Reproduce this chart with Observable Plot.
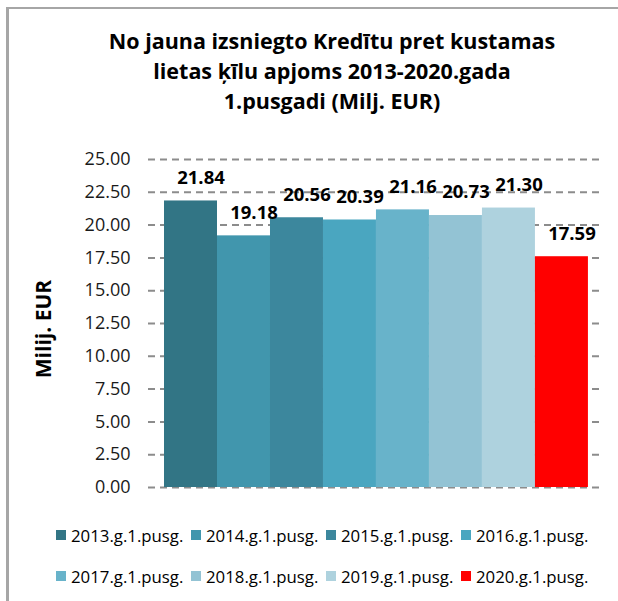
<!DOCTYPE html>
<html><head><meta charset="utf-8">
<script src="https://cdn.jsdelivr.net/npm/d3@7"></script>
<script src="https://cdn.jsdelivr.net/npm/@observablehq/plot@0.6"></script>
<style>
body{margin:0;background:#fff;font-family:"Open Sans",sans-serif;color:#000;}
#wrap{position:relative;width:618px;height:601px;overflow:hidden;background:#fff;}
#frame{position:absolute;left:6px;top:7px;width:640px;height:620px;border-left:3px solid #a6a6a6;border-top:2px solid #a6a6a6;}
#title{position:absolute;left:0;width:664px;top:26px;text-align:center;font-weight:bold;font-size:21.5px;line-height:30px;}
#ylabel{position:absolute;left:43px;top:329px;transform:translate(-50%,-50%) rotate(-90deg);font-weight:bold;font-size:21px;white-space:nowrap;}
#chart{position:absolute;left:0;top:140px;}
#legend{position:absolute;left:56px;top:525px;display:grid;grid-template-columns:repeat(4,135px);row-gap:21px;}
.item{display:flex;align-items:center;height:20px;font-size:16.8px;white-space:nowrap;}
.sw{width:10px;height:10px;margin-right:5px;flex:none;}
</style></head>
<body><div id="wrap">
<div id="frame"></div>
<div id="title">No jauna izsniegto Kredītu pret kustamas<br>lietas ķīlu apjoms 2013-2020.gada<br>1.pusgadi (Milj. EUR)</div>
<div id="ylabel">Milij. EUR</div>
<div id="chart"></div>
<div id="legend"></div>
</div>
<script>
const years = ["2013","2014","2015","2016","2017","2018","2019","2020"];
const values = [21.84, 19.18, 20.56, 20.39, 21.16, 20.73, 21.30, 17.59];
const colors = ["#327585","#4196ad","#3c879d","#4aa6c0","#68b3ca","#93c3d4","#aed2de","#ff0000"];
const legendLabels = years.map(y => y + ".g.1.pusg.");
const yTicks = [0, 2.5, 5, 7.5, 10, 12.5, 15, 17.5, 20, 22.5, 25];

const data = years.map((y, i) => ({year: y, value: values[i]}));

const plot = Plot.plot({
  width: 618,
  height: 360,
  marginTop: 19,
  marginBottom: 13,
  marginLeft: 148,
  marginRight: 18,
  style: {fontFamily: "'Open Sans', sans-serif", fontSize: "17px", color: "#1a1a1a", background: "transparent"},
  x: {domain: years, paddingInner: 0, paddingOuter: 0.265, align: 0.57, round: false, axis: null},
  y: {domain: [0, 25], label: null},
  color: {domain: years, range: colors},
  marks: [
    Plot.ruleY(yTicks, {stroke: "#8c8c8c", strokeWidth: 2, strokeDasharray: "7,5"}),
    Plot.barY(data, {x: "year", y: "value", fill: "year"}),
    Plot.axisY(yTicks, {tickSize: 0, tickPadding: 18, tickFormat: d => d.toFixed(2), fontSize: 18, label: null}),
    Plot.text(data, {x: "year", y: "value", text: d => d.value.toFixed(2), dy: -23, dx: 10, fontWeight: "bold", fontSize: 18.5, fill: "#000"})
  ]
});
document.getElementById("chart").appendChild(plot);

const leg = document.getElementById("legend");
years.forEach((y, i) => {
  const it = document.createElement("div");
  it.className = "item";
  const sw = document.createElement("span");
  sw.className = "sw";
  sw.style.background = colors[i];
  const tx = document.createElement("span");
  tx.textContent = legendLabels[i];
  it.appendChild(sw); it.appendChild(tx);
  leg.appendChild(it);
});
</script>
</body></html>
